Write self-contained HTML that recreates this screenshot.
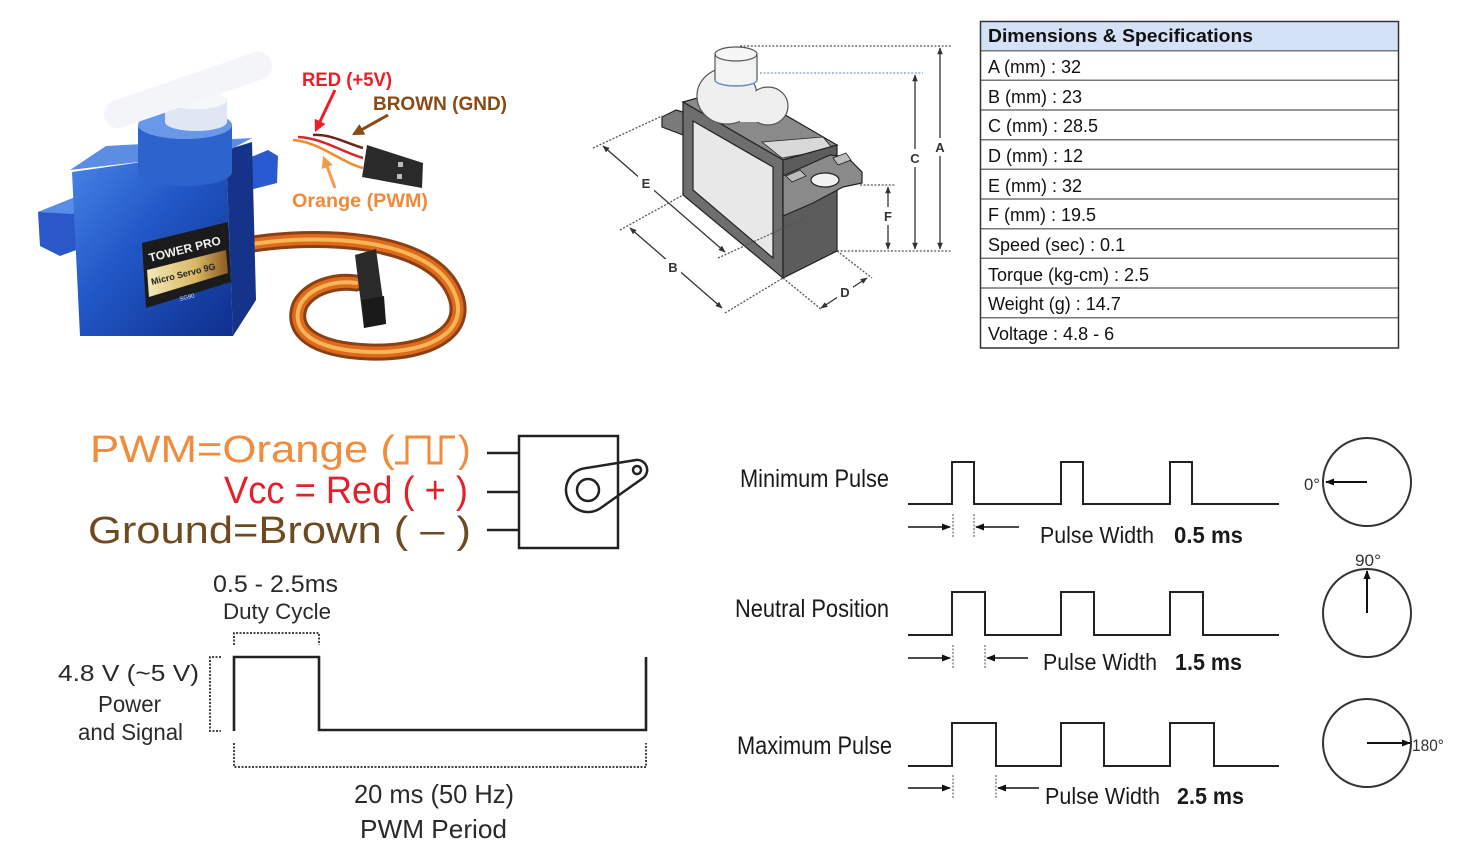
<!DOCTYPE html>
<html><head><meta charset="utf-8"><style>
html,body{margin:0;padding:0;background:#fff;}
svg{display:block;}
text{font-family:"Liberation Sans",sans-serif;}
</style></head><body>
<svg width="1475" height="855" viewBox="0 0 1475 855" xmlns="http://www.w3.org/2000/svg">
<defs>
<marker id="ah" viewBox="0 0 10 10" refX="9" refY="5" markerWidth="8" markerHeight="7" orient="auto-start-reverse" markerUnits="userSpaceOnUse"><path d="M0,1 L10,5 L0,9 z" fill="#333"/></marker>
<marker id="ak" viewBox="0 0 10 10" refX="9" refY="5" markerWidth="9" markerHeight="9" orient="auto" markerUnits="userSpaceOnUse"><path d="M0,1 L10,5 L0,9 z" fill="#111"/></marker>
<marker id="mred" viewBox="0 0 10 10" refX="8" refY="5" markerWidth="12" markerHeight="12" orient="auto" markerUnits="userSpaceOnUse"><path d="M0,0 L10,5 L0,10 z" fill="#ee1c24"/></marker>
<marker id="mbr" viewBox="0 0 10 10" refX="8" refY="5" markerWidth="12" markerHeight="12" orient="auto" markerUnits="userSpaceOnUse"><path d="M0,0 L10,5 L0,10 z" fill="#8a4a14"/></marker>
<marker id="mor" viewBox="0 0 10 10" refX="8" refY="5" markerWidth="12" markerHeight="12" orient="auto" markerUnits="userSpaceOnUse"><path d="M0,0 L10,5 L0,10 z" fill="#f49a4a"/></marker>
<linearGradient id="blue" x1="0" y1="0" x2="1" y2="1"><stop offset="0" stop-color="#4a86e8"/><stop offset="0.45" stop-color="#2157c6"/><stop offset="1" stop-color="#0e2f8c"/></linearGradient>
<linearGradient id="gold" x1="0" y1="0" x2="1" y2="0"><stop offset="0" stop-color="#f3e8b8"/><stop offset="0.6" stop-color="#d9b865"/><stop offset="1" stop-color="#8a5a20"/></linearGradient>
</defs>

<!-- ============ SERVO PHOTO ============ -->
<g fill="none" stroke-linecap="round">
<path d="M240,246 C320,232 425,238 452,288 C475,330 430,354 370,352 C312,350 290,330 300,305 C310,287 335,280 356,283" stroke="#8b3f14" stroke-width="17"/>
<path d="M240,246 C320,232 425,238 452,288 C475,330 430,354 370,352 C312,350 290,330 300,305 C310,287 335,280 356,283" stroke="#e06a1c" stroke-width="11"/>
<path d="M240,246 C320,232 425,238 452,288 C475,330 430,354 370,352 C312,350 290,330 300,305 C310,287 335,280 356,283" stroke="#f4b656" stroke-width="4"/>
</g>
<polygon points="355,255 376,249 386,322 364,328" fill="#2a2a2a"/>
<polygon points="362,300 384,296 386,324 364,328" fill="#1a1a1a"/>

<!-- tabs -->
<polygon points="38,212 78,196 112,199 114,236 60,256 40,246" fill="#2a58c8"/>
<polygon points="38,212 78,196 112,199 72,214" fill="#5a8ee6"/>
<polygon points="244,160 268,150 278,156 277,183 246,191" fill="#2a5ad0"/>
<!-- body -->
<polygon points="72,172 226,150 233,336 80,336" fill="url(#blue)"/>
<polygon points="226,150 252,142 256,300 233,336" fill="#16338a"/>
<polygon points="70,170 106,146 252,138 226,152" fill="#5d8de2"/>
<!-- label -->
<polygon points="142,243 228,222 231,282 146,308" fill="#1b1b1b"/>
<polygon points="147,270 226,250 228,273 149,297" fill="url(#gold)"/>
<text x="150" y="262" font-size="12" font-weight="bold" fill="#f0f0f0" transform="rotate(-14 150 262)">TOWER PRO</text>
<text x="152" y="285" font-size="9" font-weight="bold" fill="#222" transform="rotate(-14 152 285)">Micro Servo 9G</text>
<text x="180" y="301" font-size="6" fill="#ddd" transform="rotate(-14 180 301)">SG90</text>
<!-- cylinder + horn -->
<path d="M138,125 L138,172 A47,14 0 0 0 232,172 L232,125 Z" fill="#2d63cc"/>
<ellipse cx="185" cy="125" rx="47" ry="14" fill="#6a98e8"/>
<path d="M165,100 L165,122 A31,9 0 0 0 227,122 L227,100 Z" fill="#dfe7f5"/>
<ellipse cx="196" cy="100" rx="31" ry="9" fill="#f5f7fb"/>
<g transform="rotate(-19 188 90)"><rect x="100" y="76" width="176" height="28" rx="14" fill="#f3f5f9"/></g>

<!-- wires top right -->
<g fill="none" stroke-width="2.5">
<path d="M293,140 C320,142 340,162 363,168" stroke="#f08a2a"/>
<path d="M298,137 C322,138 342,152 363,158" stroke="#d8262a"/>
<path d="M313,135 C332,134 348,144 363,148" stroke="#6a2418"/>
</g>
<polygon points="367,145 423,163 422,188 362,177" fill="#2a2a2a"/>
<rect x="398" y="162" width="5" height="5" fill="#bbb"/>
<rect x="397" y="174" width="5" height="5" fill="#bbb"/>
<!-- photo labels and arrows -->
<line x1="335" y1="90" x2="316" y2="130" stroke="#ee1c24" stroke-width="3" marker-end="url(#mred)"/>
<line x1="388" y1="115" x2="354" y2="134" stroke="#8a4a14" stroke-width="3" marker-end="url(#mbr)"/>
<line x1="335" y1="188" x2="324" y2="158" stroke="#f49a4a" stroke-width="3" marker-end="url(#mor)"/>
<text x="302" y="86" font-size="19" font-weight="bold" fill="#ee1c24" textLength="90" lengthAdjust="spacingAndGlyphs">RED (+5V)</text>
<text x="373" y="110" font-size="19" font-weight="bold" fill="#8a4a14" textLength="134" lengthAdjust="spacingAndGlyphs">BROWN (GND)</text>
<text x="292" y="207" font-size="19" font-weight="bold" fill="#f08a3a" textLength="136" lengthAdjust="spacingAndGlyphs">Orange (PWM)</text>

<!-- ============ DIMENSION DRAWING ============ -->
<g stroke="#222" stroke-width="1.2">
<polygon points="662,117 676,110 683,112 683,135 662,127" fill="#7a7a7a"/>
<polygon points="683,102 737,87 837,145 783,160" fill="#8a8a8a"/>
<polygon points="762,142 823,137 833,149 782,158" fill="#d8d8d8" stroke-width="0.8"/>
<polygon points="683,102 783,160 783,278 683,195" fill="#6e6e6e"/>
<polygon points="693,121 773,167 773,258 693,190" fill="#e8e8e8"/>
<polygon points="783,160 837,145 837,251 783,278" fill="#5c5c5c"/>
<polygon points="783,176 830,155 847,157 862,172 862,183 843,187 813,203 783,216" fill="#8a8a8a"/>
<ellipse cx="825" cy="180" rx="14" ry="7" fill="#f2f2f2"/>
<polygon points="786,176 800,170 806,176 792,182" fill="#bdbdbd" stroke-width="0.8"/>
<polygon points="833,158 846,153 851,160 838,165" fill="#bdbdbd" stroke-width="0.8"/>
</g>
<!-- horn -->
<g fill="#efefef" stroke="#555" stroke-width="1.2">
<ellipse cx="727" cy="96" rx="30" ry="28"/>
<ellipse cx="768" cy="106" rx="20" ry="19"/>
</g>
<g fill="#efefef">
<ellipse cx="727" cy="96" rx="29" ry="27"/>
<ellipse cx="768" cy="106" rx="19" ry="18"/>
<rect x="740" y="92" width="28" height="30"/>
</g>
<path d="M715,54 L715,80 A21,6 0 0 0 757,80 L757,54 Z" fill="#f3f3f3" stroke="#555" stroke-width="1.2"/>
<path d="M715,80 A21,6 0 0 0 757,80" fill="none" stroke="#6a8fd0" stroke-width="1.4"/>
<ellipse cx="736" cy="54" rx="21" ry="7" fill="#f6f6f6" stroke="#555" stroke-width="1.2"/>

<!-- dotted extension lines -->
<g stroke="#555" stroke-width="1.3" stroke-dasharray="2,1.6" fill="none">
<line x1="740" y1="46" x2="952" y2="46"/>
<line x1="837" y1="251" x2="952" y2="251"/>
<line x1="860" y1="185" x2="895" y2="185"/>
<line x1="593" y1="148" x2="662" y2="116"/>
<line x1="718" y1="258" x2="812" y2="215"/>
<line x1="620" y1="230" x2="683" y2="195"/>
<line x1="725" y1="313" x2="783" y2="278"/>
<line x1="783" y1="278" x2="822" y2="310"/>
<line x1="837" y1="251" x2="872" y2="278"/>
</g>
<line x1="760" y1="73" x2="923" y2="73" stroke="#7b9bd4" stroke-width="1.3" stroke-dasharray="2,1.6"/>
<!-- dimension arrows -->
<g stroke="#333" stroke-width="1.3">
<line x1="940" y1="48" x2="940" y2="249" marker-start="url(#ah)" marker-end="url(#ah)"/>
<line x1="915" y1="75" x2="915" y2="249" marker-start="url(#ah)" marker-end="url(#ah)"/>
<line x1="888" y1="187" x2="888" y2="249" marker-start="url(#ah)" marker-end="url(#ah)"/>
<line x1="603" y1="146" x2="725" y2="252" marker-start="url(#ah)" marker-end="url(#ah)"/>
<line x1="630" y1="228" x2="722" y2="308" marker-start="url(#ah)" marker-end="url(#ah)"/>
<line x1="821" y1="308" x2="867" y2="278" marker-start="url(#ah)" marker-end="url(#ah)"/>
</g>
<g fill="#fff">
<rect x="933" y="138" width="14" height="18"/>
<rect x="908" y="149" width="14" height="18"/>
<rect x="881" y="207" width="14" height="18"/>
<rect x="638" y="175" width="16" height="17"/>
<rect x="665" y="259" width="16" height="17"/>
<rect x="837" y="284" width="16" height="17"/>
</g>
<g font-size="13" font-weight="bold" fill="#333" text-anchor="middle">
<text x="940" y="152">A</text>
<text x="915" y="163">C</text>
<text x="888" y="221">F</text>
<text x="646" y="188">E</text>
<text x="673" y="272">B</text>
<text x="845" y="297">D</text>
</g>

<!-- ============ TABLE ============ -->
<rect x="980" y="21" width="419" height="30" fill="#d3e2f7"/>
<g stroke="#777" stroke-width="1.5">
<line x1="980" y1="50.7" x2="1399" y2="50.7"/>
<line x1="980" y1="80.3" x2="1399" y2="80.3"/>
<line x1="980" y1="110" x2="1399" y2="110"/>
<line x1="980" y1="139.7" x2="1399" y2="139.7"/>
<line x1="980" y1="169.3" x2="1399" y2="169.3"/>
<line x1="980" y1="199" x2="1399" y2="199"/>
<line x1="980" y1="228.7" x2="1399" y2="228.7"/>
<line x1="980" y1="258.3" x2="1399" y2="258.3"/>
<line x1="980" y1="288" x2="1399" y2="288"/>
<line x1="980" y1="317.7" x2="1399" y2="317.7"/>
</g>
<rect x="980.5" y="21.5" width="418" height="326.5" fill="none" stroke="#333" stroke-width="1.5"/>
<text x="988" y="42" font-size="18" font-weight="bold" fill="#111" textLength="265" lengthAdjust="spacingAndGlyphs">Dimensions &amp; Specifications</text>
<g font-size="18" fill="#111">
<text x="988" y="73">A (mm) : 32</text>
<text x="988" y="103">B (mm) : 23</text>
<text x="988" y="132">C (mm) : 28.5</text>
<text x="988" y="162">D (mm) : 12</text>
<text x="988" y="192">E (mm) : 32</text>
<text x="988" y="221">F (mm) : 19.5</text>
<text x="988" y="251">Speed (sec) : 0.1</text>
<text x="988" y="281">Torque (kg-cm) : 2.5</text>
<text x="988" y="310">Weight (g) : 14.7</text>
<text x="988" y="340">Voltage : 4.8 - 6</text>
</g>

<!-- ============ WIRE LEGEND ============ -->
<text x="90" y="462" font-size="38" fill="#f08c3c" textLength="305" lengthAdjust="spacingAndGlyphs">PWM=Orange (</text>
<path d="M395,463 H407 V437 H429 V463 H441 V437 H455" fill="none" stroke="#f08c3c" stroke-width="3"/>
<text x="458" y="462" font-size="38" fill="#f08c3c">)</text>
<text x="224" y="503" font-size="38" fill="#e3202b" textLength="244" lengthAdjust="spacingAndGlyphs">Vcc = Red ( + )</text>
<text x="88" y="543" font-size="38" fill="#6e4a20" textLength="383" lengthAdjust="spacingAndGlyphs">Ground=Brown ( – )</text>
<g stroke="#222" stroke-width="2.5" fill="none">
<rect x="519" y="436" width="99" height="112"/>
<line x1="487" y1="453" x2="519" y2="453"/>
<line x1="487" y1="492" x2="519" y2="492"/>
<line x1="487" y1="530" x2="519" y2="530"/>
<path d="M600.7,508 L642.8,478.2 A10,10 0 0 0 635.4,460.1 L584.5,468.3 A22,22 0 1 0 600.7,508 Z"/>
<circle cx="588" cy="490" r="11"/>
<circle cx="637" cy="470" r="4"/>
</g>

<!-- ============ DUTY CYCLE ============ -->
<g fill="#2a2a2a">
<text x="213" y="592" font-size="24" textLength="125" lengthAdjust="spacingAndGlyphs">0.5  -  2.5ms</text>
<text x="223" y="619" font-size="22" textLength="108" lengthAdjust="spacingAndGlyphs">Duty Cycle</text>
<text x="58" y="681" font-size="23" textLength="141" lengthAdjust="spacingAndGlyphs">4.8 V (~5 V)</text>
<text x="98" y="712" font-size="23" textLength="63" lengthAdjust="spacingAndGlyphs">Power</text>
<text x="78" y="740" font-size="23" textLength="105" lengthAdjust="spacingAndGlyphs">and Signal</text>
<text x="354" y="803" font-size="26" textLength="160" lengthAdjust="spacingAndGlyphs">20 ms (50 Hz)</text>
<text x="360" y="838" font-size="26" textLength="147" lengthAdjust="spacingAndGlyphs">PWM Period</text>
</g>
<path d="M234,731 V657 H319 V730 H646 V657" fill="none" stroke="#222" stroke-width="2.6"/>
<g fill="none" stroke="#444" stroke-width="2" stroke-dasharray="2,1.5">
<path d="M234,645 V633 H319 V645"/>
<path d="M221,657 H210 V731 H221"/>
<path d="M234,743 V767 H646 V743"/>
</g>

<!-- ============ PULSES ============ -->
<g font-size="25" fill="#1a1a1a">
<text x="740" y="487" textLength="149" lengthAdjust="spacingAndGlyphs">Minimum Pulse</text>
<text x="735" y="617" textLength="154" lengthAdjust="spacingAndGlyphs">Neutral Position</text>
<text x="737" y="754" textLength="155" lengthAdjust="spacingAndGlyphs">Maximum Pulse</text>
</g>
<g font-size="23" fill="#1a1a1a">
<text x="1040" y="543" textLength="114" lengthAdjust="spacingAndGlyphs">Pulse Width</text>
<text x="1174" y="543" font-weight="bold" textLength="69" lengthAdjust="spacingAndGlyphs">0.5 ms</text>
<text x="1043" y="670" textLength="114" lengthAdjust="spacingAndGlyphs">Pulse Width</text>
<text x="1175" y="670" font-weight="bold" textLength="67" lengthAdjust="spacingAndGlyphs">1.5 ms</text>
<text x="1045" y="804" textLength="115" lengthAdjust="spacingAndGlyphs">Pulse Width</text>
<text x="1177" y="804" font-weight="bold" textLength="67" lengthAdjust="spacingAndGlyphs">2.5 ms</text>
</g>
<g fill="none" stroke="#222" stroke-width="2">
<path d="M908,504 H952 V462 H974 V504 H1061 V462 H1083 V504 H1170 V462 H1192 V504 H1279"/>
<path d="M908,635 H952 V592 H985 V635 H1061 V592 H1094 V635 H1170 V592 H1203 V635 H1279"/>
<path d="M908,766 H952 V723 H996 V766 H1061 V723 H1104 V766 H1170 V723 H1214 V766 H1279"/>
</g>
<g stroke="#777" stroke-width="1.3" stroke-dasharray="2,1.5">
<line x1="953" y1="514" x2="953" y2="537"/><line x1="974" y1="514" x2="974" y2="537"/>
<line x1="953" y1="645" x2="953" y2="668"/><line x1="985" y1="645" x2="985" y2="668"/>
<line x1="953" y1="775" x2="953" y2="799"/><line x1="996" y1="775" x2="996" y2="799"/>
</g>
<g stroke="#111" stroke-width="1.6">
<line x1="908" y1="527" x2="950" y2="527" marker-end="url(#ak)"/>
<line x1="1019" y1="527" x2="976" y2="527" marker-end="url(#ak)"/>
<line x1="908" y1="658" x2="950" y2="658" marker-end="url(#ak)"/>
<line x1="1028" y1="658" x2="987" y2="658" marker-end="url(#ak)"/>
<line x1="908" y1="788" x2="950" y2="788" marker-end="url(#ak)"/>
<line x1="1039" y1="788" x2="998" y2="788" marker-end="url(#ak)"/>
</g>
<!-- circles -->
<g fill="none" stroke="#333" stroke-width="2">
<circle cx="1367" cy="482" r="44"/>
<circle cx="1367" cy="613" r="44"/>
<circle cx="1367" cy="743" r="44"/>
</g>
<g stroke="#111" stroke-width="2">
<line x1="1367" y1="482" x2="1326" y2="482" marker-end="url(#ak)"/>
<line x1="1367" y1="613" x2="1367" y2="571" marker-end="url(#ak)"/>
<line x1="1367" y1="743" x2="1410" y2="743" marker-end="url(#ak)"/>
</g>
<g font-size="17" fill="#333">
<text x="1304" y="490" textLength="16" lengthAdjust="spacingAndGlyphs">0°</text>
<text x="1355" y="566" textLength="26" lengthAdjust="spacingAndGlyphs">90°</text>
<text x="1412" y="751" textLength="32" lengthAdjust="spacingAndGlyphs">180°</text>
</g>
</svg>
</body></html>
